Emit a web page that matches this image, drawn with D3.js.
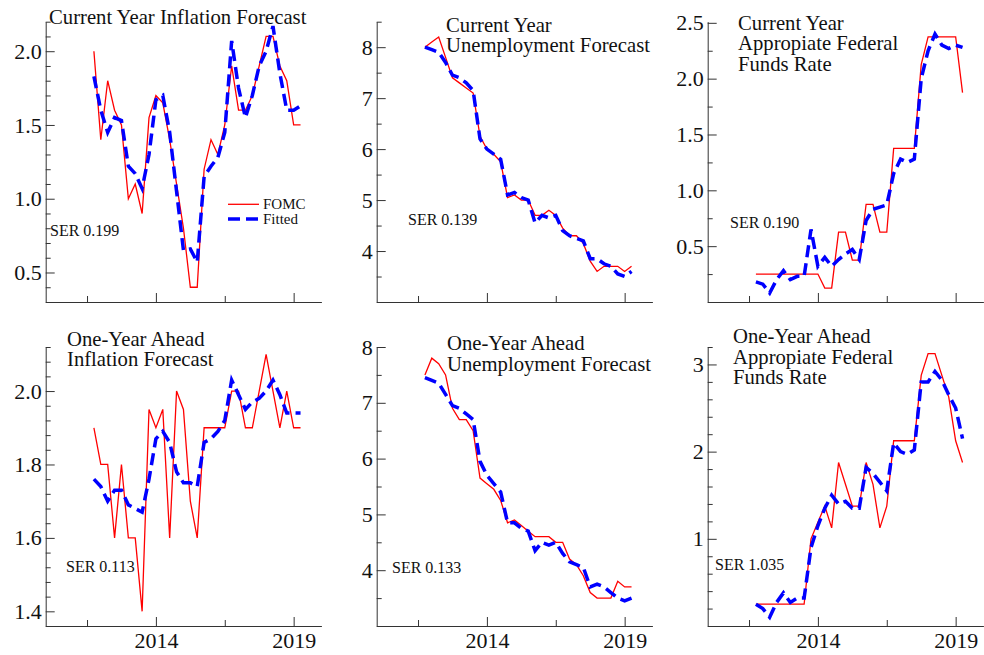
<!DOCTYPE html>
<html>
<head>
<meta charset="utf-8">
<script src="https://cdn.jsdelivr.net/npm/d3@7"></script>
<style>
  body { margin: 0; background: #fff; }
  svg { display: block; font-family: "Liberation Serif", "Times New Roman", serif; }
</style>
</head>
<body>
<div id="chart"></div>
<script>
// quarterly SEP dates
const dates = [2011.75, 2012, 2012.25, 2012.5, 2012.75, 2013, 2013.25, 2013.5, 2013.75,
  2014, 2014.25, 2014.5, 2014.75, 2015, 2015.25, 2015.5, 2015.75, 2016, 2016.25, 2016.5,
  2016.75, 2017, 2017.25, 2017.5, 2017.75, 2018, 2018.25, 2018.5, 2018.75, 2019, 2019.25];

const inflCurFOMC = [2.0, 1.4, 1.8, 1.6, 1.5, 1.0, 1.1, 0.9, 1.55, 1.7, 1.65, 1.4, 1.1, 0.8, 0.4, 0.4,
  1.2, 1.4, 1.3, 1.5, 1.9, 1.6, 1.6, 1.7, 1.9, 2.1, 2.1, 1.9, 1.8, 1.5, 1.5];
const inflCurFit = [1.83, 1.6, 1.45, 1.55, 1.53, 1.22, 1.17, 1.07, 1.3, 1.67, 1.7, 1.45, 1.05, 0.65, 0.66, 0.57,
  1.15, 1.22, 1.28, 1.45, 2.07, 1.75, 1.55, 1.7, 1.9, 2.0, 2.17, 1.85, 1.6, 1.6, 1.63];

const unempCurFOMC = [8.0, 8.1, 8.2, 7.8, 7.4, 7.3, 7.2, 7.1, 6.25, 6.0, 5.9, 5.75, 5.05, 5.1, 5.0, 5.0,
  4.7, 4.7, 4.8, 4.7, 4.45, 4.3, 4.3, 4.15, 3.8, 3.6, 3.7, 3.7, 3.7, 3.6, 3.7];
const unempCurFit = [8.0, 7.95, 7.9, 7.7, 7.45, 7.4, 7.3, 7.15, 6.2, 6.0, 5.9, 5.8, 5.1, 5.15, 5.05, 5.0,
  4.55, 4.7, 4.65, 4.7, 4.4, 4.3, 4.25, 4.2, 3.85, 3.85, 3.75, 3.7, 3.55, 3.5, 3.6];

const fedCurFOMC = [0.25, 0.25, 0.25, 0.25, 0.25, 0.25, 0.25, 0.25, 0.25, 0.25, 0.125, 0.125, 0.625, 0.625, 0.375, 0.375,
  0.875, 0.875, 0.625, 0.625, 1.375, 1.375, 1.375, 1.375, 2.125, 2.375, 2.375, 2.375, 2.375, 2.375, 1.875];
const fedCurFit = [0.18, 0.16, 0.08, 0.2, 0.28, 0.2, 0.23, 0.23, 0.65, 0.32, 0.4, 0.32, 0.38, 0.43, 0.47, 0.38,
  0.73, 0.83, 0.85, 0.87, 1.15, 1.28, 1.25, 1.28, 2.0, 2.25, 2.4, 2.3, 2.27, 2.3, 2.28];

const inflAheadFOMC = [1.9, 1.8, 1.8, 1.6, 1.8, 1.6, 1.6, 1.4, 1.95, 1.9, 1.95, 1.6, 2.0, 1.95, 1.7, 1.6,
  1.9, 1.9, 1.9, 1.9, 2.0, 2.0, 1.9, 1.9, 2.0, 2.1, 2.0, 1.9, 2.0, 1.9, 1.9];
const inflAheadFit = [1.76, 1.74, 1.70, 1.73, 1.73, 1.69, 1.68, 1.67, 1.76, 1.87, 1.89, 1.86, 1.78, 1.75, 1.75, 1.74,
  1.86, 1.87, 1.89, 1.92, 2.03, 1.99, 1.95, 1.97, 1.98, 2.0, 2.03, 1.99, 1.94, 1.94, 1.94];

const unempAheadFOMC = [7.5, 7.8, 7.7, 7.5, 6.9, 6.7, 6.7, 6.5, 5.65, 5.55, 5.45, 5.25, 4.85, 4.9, 4.8, 4.7,
  4.6, 4.6, 4.6, 4.5, 4.5, 4.2, 4.1, 3.9, 3.6, 3.5, 3.5, 3.5, 3.8, 3.7, 3.7];
const unempAheadFit = [7.45, 7.4, 7.35, 7.15, 6.95, 6.9, 6.8, 6.7, 5.95, 5.7, 5.55, 5.4, 4.85, 4.85, 4.75, 4.7,
  4.35, 4.5, 4.45, 4.5, 4.3, 4.15, 4.1, 4.05, 3.7, 3.75, 3.7, 3.6, 3.5, 3.45, 3.5];

const fedAheadFOMC = [0.25, 0.25, 0.25, 0.25, 0.25, 0.25, 0.25, 0.25, 1.0, 1.19, 1.375, 1.125, 1.875, 1.625, 1.375, 1.375,
  1.875, 1.625, 1.125, 1.375, 2.125, 2.125, 2.125, 2.125, 2.875, 3.125, 3.125, 2.875, 2.625, 2.125, 1.875];
const fedAheadFit = [0.25, 0.2, 0.1, 0.27, 0.38, 0.27, 0.32, 0.32, 0.9, 1.15, 1.35, 1.5, 1.4, 1.43, 1.35, 1.35,
  1.82, 1.75, 1.65, 1.55, 2.1, 2.0, 1.97, 2.02, 2.8, 2.8, 2.92, 2.82, 2.65, 2.5, 2.15];

const titles = [
  ["Current Year Inflation Forecast"],
  ["Current Year", "Unemployment Forecast"],
  ["Current Year", "Appropiate Federal", "Funds Rate"],
  ["One-Year Ahead", "Inflation Forecast"],
  ["One-Year Ahead", "Unemployment Forecast"],
  ["One-Year Ahead", "Appropiate Federal", "Funds Rate"]
];
const serLabels = ["SER 0.199", "SER 0.139", "SER 0.190", "SER 0.113", "SER 0.133", "SER 1.035"];
const xMajorTicks = [2014, 2019];
const xMinorTicks = [2011.5, 2016.5];
const legendLabels = ["FOMC", "Fitted"];

const width = 984, height = 655;
const colLeft = [45.7, 376.7, 707.7];
const plotW = 275.5;
const rows = [{ top: 21.7, bottom: 302 }, { top: 347, bottom: 626 }];
const red = "#ff0000", blue = "#0000ff";

const panels = [
  { fomc: inflCurFOMC, fit: inflCurFit, domain: [0.3, 2.2], major: [0.5, 1.0, 1.5, 2.0], minor: 0.1, fmt: ".1f",
    tx: 49, ty: [24], sx: 50, sy: 236, legend: true },
  { fomc: unempCurFOMC, fit: unempCurFit, domain: [3, 8.5], major: [4, 5, 6, 7, 8], minor: 0.5, fmt: "d",
    tx: 446, ty: [31.5, 51.8], sx: 408, sy: 225 },
  { fomc: fedCurFOMC, fit: fedCurFit, domain: [0, 2.51], major: [0.5, 1.0, 1.5, 2.0, 2.5], minor: 0.25, fmt: ".1f",
    tx: 738, ty: [30, 50.3, 70.6], sx: 730, sy: 228 },
  { fomc: inflAheadFOMC, fit: inflAheadFit, domain: [1.36, 2.12], major: [1.4, 1.6, 1.8, 2.0], minor: 0.04, fmt: ".1f",
    tx: 67, ty: [346, 366.3], sx: 66, sy: 571.7 },
  { fomc: unempAheadFOMC, fit: unempAheadFit, domain: [3, 8], major: [4, 5, 6, 7, 8], minor: 0.5, fmt: "d",
    tx: 447, ty: [350.3, 370.6], sx: 392, sy: 573 },
  { fomc: fedAheadFOMC, fit: fedAheadFit, domain: [0, 3.2], major: [1, 2, 3], minor: 0.2, fmt: "d",
    tx: 733, ty: [343.3, 364, 384.3], sx: 715, sy: 570 }
];

const svg = d3.select("#chart").append("svg")
  .attr("width", width).attr("height", height);

panels.forEach((p, k) => {
  const col = k % 3, row = Math.floor(k / 3);
  const left = colLeft[col], { top, bottom } = rows[row];

  const x = d3.scaleLinear().domain([2010, 2020]).range([left, left + plotW]);
  const y = d3.scaleLinear().domain(p.domain).range([bottom, top]);

  const g = svg.append("g");

  // minor y ticks
  const minorVals = d3.range(Math.ceil(p.domain[0] / p.minor - 1e-6), Math.floor(p.domain[1] / p.minor + 1e-6) + 1)
    .map(i => +(i * p.minor).toFixed(4))
    .filter(v => !p.major.some(m => Math.abs(m - v) < 1e-6));
  g.append("g")
    .attr("transform", `translate(${left},0)`)
    .call(d3.axisLeft(y).tickValues(minorVals).tickSizeInner(-5).tickSizeOuter(0).tickFormat(""))
    .call(a => a.select(".domain").remove());

  // major y ticks + labels
  g.append("g")
    .attr("transform", `translate(${left},0)`)
    .call(d3.axisLeft(y).tickValues(p.major).tickSizeInner(-9).tickSizeOuter(0).tickPadding(4)
      .tickFormat(d3.format(p.fmt)))
    .call(a => a.selectAll("text").attr("font-family", "Liberation Serif").attr("font-size", 22).attr("fill", "#111"));

  // x axis
  g.append("g")
    .attr("transform", `translate(0,${bottom})`)
    .call(d3.axisBottom(x).tickValues(xMinorTicks).tickSizeInner(-6).tickSizeOuter(0).tickFormat(""));
  g.append("g")
    .attr("transform", `translate(0,${bottom})`)
    .call(d3.axisBottom(x).tickValues(xMajorTicks).tickSizeInner(-9).tickSizeOuter(0).tickPadding(6)
      .tickFormat(row === 1 ? d3.format("d") : () => ""))
    .call(a => a.selectAll("text").attr("font-family", "Liberation Serif").attr("font-size", 22).attr("fill", "#111"));

  g.selectAll(".domain, .tick line").attr("stroke", "#333").attr("stroke-width", 1);

  // series
  const pts = s => dates.map((d, i) => [d, s[i]]);
  const line = d3.line().x(d => x(d[0])).y(d => y(d[1]));
  g.append("path").datum(pts(p.fomc))
    .attr("d", line).attr("fill", "none").attr("stroke", red).attr("stroke-width", 1.3)
    .attr("stroke-linejoin", "miter");
  g.append("path").datum(pts(p.fit))
    .attr("d", line).attr("fill", "none").attr("stroke", blue).attr("stroke-width", 3.5)
    .attr("stroke-dasharray", "12,6");

  // title
  const t = g.append("text").attr("font-size", 20.7).attr("fill", "#111");
  titles[k].forEach((s, i) => t.append("tspan").attr("x", p.tx).attr("y", p.ty[i]).text(s));

  // SER
  g.append("text").attr("x", p.sx).attr("y", p.sy).attr("font-size", 16).attr("fill", "#111").text(serLabels[k]);

  if (p.legend) {
    const lg = g.append("g");
    lg.append("line").attr("x1", 228).attr("x2", 259).attr("y1", 204.3).attr("y2", 204.3)
      .attr("stroke", red).attr("stroke-width", 1.3);
    lg.append("line").attr("x1", 228).attr("x2", 259).attr("y1", 219).attr("y2", 219)
      .attr("stroke", blue).attr("stroke-width", 3.5).attr("stroke-dasharray", "12,6");
    legendLabels.forEach((s, i) => lg.append("text").attr("x", 263).attr("y", 209 + i * 15)
      .attr("font-size", 15).attr("fill", "#111").text(s));
  }
});
</script>
</body>
</html>
